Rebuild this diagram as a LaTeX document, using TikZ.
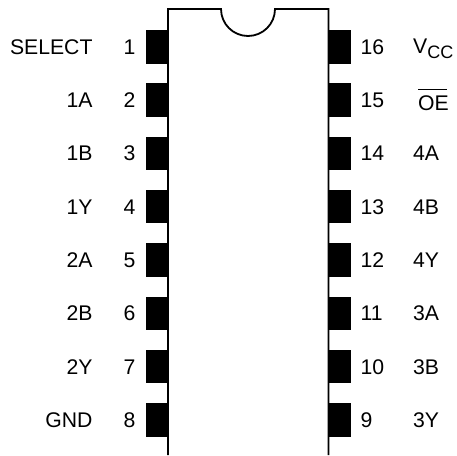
\documentclass[tikz,border=0pt]{standalone}
\usepackage{fontspec}
\setmainfont{Liberation Sans}
\tikzset{
  x=1pt,y=-1pt,
  body/.style={draw=black,line width=1.8pt,line join=miter},
  pinbox/.style={draw=none,fill=black,inner sep=0pt,minimum width=22pt,minimum height=33.6pt},
  lab/.style={inner sep=0pt,font=\fontsize{21.2}{21.2}\selectfont},
  leftname/.style={lab,anchor=base east},
  leftnum/.style={lab,anchor=base},
  rightnum/.style={lab,anchor=base west},
  rightname/.style={lab,anchor=base west},
}
\begin{document}
\begin{tikzpicture}
\useasboundingbox (0,0) rectangle (457,455);
\fill[white] (0,0) rectangle (457,455);
% package outline with notch
\coordinate (bl) at (168,455);
\coordinate (tl) at (168,9);
\coordinate (nl) at (221,9);
\coordinate (nr) at (275,9);
\coordinate (tr) at (328.5,9);
\coordinate (br) at (328.5,455);
% pins and pin labels
\foreach \n/\name [count=\i from 0] in {1/SELECT,2/1A,3/1B,4/1Y,5/2A,6/2B,7/2Y,8/GND}{
  \pgfmathsetmacro{\yc}{46.7+53.33*\i}
  \pgfmathsetmacro{\yb}{\yc+7.5}
  \node[pinbox] (pinL\n) at (157,\yc) {};
  \node[leftnum] (numL\n) at (129.5,\yb) {\n};
  \node[leftname] (nameL\n) at (92.7,\yb) {\name};
}
\foreach \n [count=\i from 0] in {16,15,14,13,12,11,10,9}{
  \pgfmathsetmacro{\yc}{46.7+53.33*\i}
  \pgfmathsetmacro{\yb}{\yc+7.5}
  \node[pinbox] (pinR\n) at (339.5,\yc) {};
  \node[rightnum] (numR\n) at (360.5,\yb) {\n};
}
\foreach \n/\name [count=\i from 2] in {14/4A,13/4B,12/4Y,11/3A,10/3B,9/3Y}{
  \pgfmathsetmacro{\yb}{54.2+53.33*\i}
  \node[rightname] (nameR\n) at (413,\yb) {\name};
}
\node[rightname] (nameR16) at (413,53.5) {V\raisebox{-5pt}{\fontsize{18}{18}\selectfont CC}};
\node[rightname] (nameR15) at (418,110) {\rlap{\raisebox{20pt}{\rule{29pt}{1pt}}}OE};
\draw[body] (bl) -- (tl) -- (nl) arc[start angle=180,end angle=360,radius=27pt] -- (nr) -- (tr) -- (br);
\end{tikzpicture}
\end{document}
